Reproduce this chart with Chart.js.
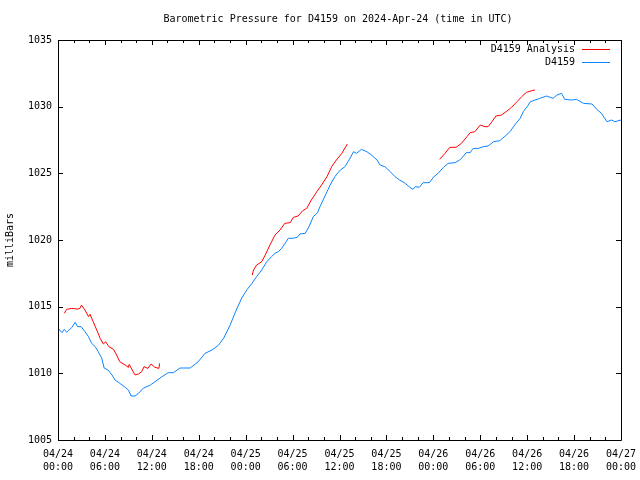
<!DOCTYPE html>
<html>
<head>
<meta charset="utf-8">
<script src="https://cdn.jsdelivr.net/npm/chart.js@4"></script>
<style>
  html, body { margin: 0; padding: 0; background: #fff; }
  #wrap { width: 640px; height: 480px; }
</style>
</head>
<body>
<div id="wrap"><canvas id="myChart" width="640" height="480"></canvas></div>
<script>
// hours since 2024-04-24 00:00 UTC
const stationHours = [0.0, 0.5, 0.8, 1.1, 1.4, 1.75, 2.2, 2.5, 2.95, 3.45, 3.9, 4.3, 4.75, 5.15, 5.6, 5.9, 6.4, 6.9, 7.3, 7.9,
  8.6, 9.0, 9.35, 9.85, 10.3, 10.9, 11.8, 12.4, 13.3, 14.1, 14.75, 15.6, 16.9, 17.9, 18.8, 19.7, 20.5, 21.2, 22.0, 22.8,
  23.5, 24.2, 24.8, 25.4, 26.05, 26.7, 27.3, 27.75, 28.2, 28.6, 29.05, 29.45, 30.1, 30.6, 30.95, 31.6, 32.1, 32.65, 33.2, 33.5,
  33.9, 34.4, 34.8, 35.4, 36.1, 36.7, 37.1, 37.8, 38.2, 38.8, 39.5, 40.1, 40.8, 41.2, 41.8, 42.5, 43.1, 43.7, 44.4, 45.0,
  45.4, 45.7, 46.2, 46.7, 47.5, 48.0, 48.6, 49.3, 49.9, 50.8, 51.5, 52.2, 52.7, 53.1, 53.75, 54.4, 55.0, 55.7, 56.5, 57.2,
  57.8, 58.4, 59.1, 59.5, 60.0, 60.4, 61.0, 61.6, 62.5, 63.3, 63.8, 64.4, 64.8, 65.7, 66.3, 67.2, 68.3, 68.9, 69.5, 70.2,
  70.8, 71.2, 72.0];
const stationMb = [1013.4, 1013.05, 1013.3, 1013.08, 1013.25, 1013.42, 1013.83, 1013.5, 1013.5, 1013.12, 1012.75, 1012.25, 1012.0, 1011.62, 1011.13, 1010.4, 1010.25, 1009.88, 1009.5, 1009.25,
  1008.95, 1008.75, 1008.3, 1008.3, 1008.5, 1008.88, 1009.12, 1009.37, 1009.75, 1010.05, 1010.05, 1010.4, 1010.4, 1010.85, 1011.5, 1011.75, 1012.1, 1012.65, 1013.6, 1014.75,
  1015.65, 1016.3, 1016.75, 1017.25, 1017.75, 1018.37, 1018.75, 1019.0, 1019.13, 1019.38, 1019.75, 1020.13, 1020.13, 1020.2, 1020.45, 1020.5, 1021.0, 1021.75, 1022.05, 1022.5,
  1023.0, 1023.62, 1024.12, 1024.75, 1025.25, 1025.5, 1025.88, 1026.62, 1026.5, 1026.8, 1026.62, 1026.37, 1026.0, 1025.62, 1025.5, 1025.12, 1024.75, 1024.5, 1024.25, 1023.95,
  1023.8, 1024.0, 1023.95, 1024.3, 1024.3, 1024.7, 1025.0, 1025.45, 1025.75, 1025.8, 1026.05, 1026.55, 1026.55, 1026.87, 1026.87, 1027.0, 1027.05, 1027.37, 1027.45, 1027.8,
  1028.12, 1028.62, 1029.13, 1029.62, 1030.0, 1030.37, 1030.5, 1030.62, 1030.8, 1030.62, 1030.87, 1031.0, 1030.55, 1030.5, 1030.55, 1030.25, 1030.2, 1029.8, 1029.5, 1028.87,
  1029.0, 1028.87, 1029.0];

// analysis runs, null = gap between runs
const analysisHours = [0.8, 1.1, 1.75, 2.5, 2.8, 3.0, 3.45, 3.9, 4.1, 4.5, 4.95, 5.4, 5.8, 6.1, 6.5, 7.1, 7.5, 7.9, 8.6, 9.0,
  9.1, 9.5, 9.85, 10.3, 10.7, 11.0, 11.5, 11.9, 12.4, 12.9, 13.0, 18.0,
  24.85, 25.0, 25.4, 26.05, 26.5, 27.1, 27.75, 28.4, 29.0, 29.7, 30.1, 30.7, 31.3, 31.8, 32.4, 33.1, 33.7, 34.4, 35.0, 35.6,
  36.3, 36.8, 37.0, 42.0,
  48.8, 49.5, 50.1, 50.9, 51.6, 52.3, 52.7, 53.3, 54.0, 54.6, 55.0, 55.5, 56.0, 56.7, 57.3, 58.0, 58.7, 59.3, 59.9, 60.6, 61.0];
const analysisMb = [1014.5, 1014.8, 1014.87, 1014.82, 1014.87, 1015.12, 1014.75, 1014.25, 1014.43, 1013.87, 1013.25, 1012.62, 1012.2, 1012.37, 1012.0, 1011.8, 1011.37, 1010.87, 1010.62, 1010.45,
  1010.67, 1010.25, 1009.88, 1009.95, 1010.12, 1010.5, 1010.37, 1010.7, 1010.45, 1010.37, 1010.75, null,
  1017.37, 1017.75, 1018.12, 1018.37, 1018.87, 1019.62, 1020.37, 1020.75, 1021.25, 1021.3, 1021.7, 1021.8, 1022.2, 1022.37, 1023.0, 1023.62, 1024.12, 1024.75, 1025.5, 1026.0,
  1026.5, 1027.0, 1027.2, null,
  1026.05, 1026.5, 1026.95, 1026.95, 1027.25, 1027.75, 1028.05, 1028.12, 1028.62, 1028.5, 1028.5, 1028.87, 1029.3, 1029.37, 1029.62, 1029.95, 1030.37, 1030.75, 1031.07, 1031.2, 1031.25];

const dayLabels = ['04/24', '04/24', '04/24', '04/24', '04/25', '04/25', '04/25', '04/25', '04/26', '04/26', '04/26', '04/26', '04/27'];
const timeLabels = ['00:00', '06:00', '12:00', '18:00', '00:00', '06:00', '12:00', '18:00', '00:00', '06:00', '12:00', '18:00', '00:00'];

const FONT = '10px "DejaVu Sans Mono"';
const RED = '#ff0000';
const BLUE = '#0a84ff';

function pts(xs, ys) {
  return xs.map((x, i) => ({ x: x, y: ys[i] }));
}

// gnuplot-ish frame: border on all sides, ticks pointing inward, title, legend
const gnuFrame = {
  id: 'gnuFrame',
  afterDraw(chart) {
    const ctx = chart.ctx;
    const a = chart.chartArea;
    const xs = chart.scales.x, ys = chart.scales.y;
    ctx.save();
    ctx.strokeStyle = '#000';
    ctx.lineWidth = 1;
    ctx.beginPath();
    ctx.rect(Math.round(a.left) + 0.5, Math.round(a.top) + 0.5, Math.round(a.right - a.left), Math.round(a.bottom - a.top));
    ctx.stroke();

    ctx.beginPath();
    for (let h = 0; h <= 72; h += 2) {
      const px = Math.round(xs.getPixelForValue(h)) + 0.5;
      const len = h % 6 === 0 ? 5 : 3;
      ctx.moveTo(px, a.bottom); ctx.lineTo(px, a.bottom - len);
      ctx.moveTo(px, a.top); ctx.lineTo(px, a.top + len);
    }
    for (let v = 1005; v <= 1035; v += 5) {
      const py = Math.round(ys.getPixelForValue(v)) + 0.5;
      ctx.moveTo(a.left, py); ctx.lineTo(a.left + 5, py);
      ctx.moveTo(a.right, py); ctx.lineTo(a.right - 5, py);
    }
    ctx.stroke();

    ctx.fillStyle = '#000';
    ctx.font = FONT;
    ctx.textAlign = 'center';
    ctx.textBaseline = 'middle';
    ctx.fillText('Barometric Pressure for D4159 on 2024-Apr-24 (time in UTC)', 338, 19);

    ctx.save();
    ctx.translate(10, 240);
    ctx.rotate(-Math.PI / 2);
    ctx.fillText('milliBars', 0, 0);
    ctx.restore();

    // legend, top right inside the plot
    const order = [1, 0];
    order.forEach((di, row) => {
      const ds = chart.data.datasets[di];
      const y = 49 + row * 13;
      ctx.textAlign = 'right';
      ctx.fillStyle = '#000';
      ctx.fillText(ds.label, 575, y);
      ctx.strokeStyle = ds.borderColor;
      ctx.beginPath();
      ctx.moveTo(582, y + 0.5);
      ctx.lineTo(610, y + 0.5);
      ctx.stroke();
    });
    ctx.restore();
  }
};

const ctx = document.getElementById('myChart');
new Chart(ctx, {
  type: 'line',
  data: {
    datasets: [
      {
        label: 'D4159',
        data: pts(stationHours, stationMb),
        borderColor: BLUE,
        borderWidth: 1,
        pointRadius: 0,
        tension: 0
      },
      {
        label: 'D4159 Analysis',
        data: pts(analysisHours, analysisMb),
        borderColor: RED,
        borderWidth: 1,
        pointRadius: 0,
        tension: 0,
        spanGaps: false
      }
    ]
  },
  plugins: [gnuFrame],
  options: {
    responsive: false,
    animation: false,
    parsing: false,
    layout: { padding: { top: 40, right: 19, left: 0, bottom: 0 } },
    plugins: {
      legend: { display: false },
      title: { display: false },
      tooltip: { enabled: false }
    },
    scales: {
      x: {
        type: 'linear',
        min: 0,
        max: 72,
        border: { display: false },
        grid: { display: false, drawTicks: false },
        afterFit: (s) => { s.height = 40; s.paddingLeft = 0; s.paddingRight = 0; },
        afterBuildTicks: (s) => {
          s.ticks = timeLabels.map((t, i) => ({ value: i * 6 }));
        },
        ticks: {
          autoSkip: false,
          maxRotation: 0,
          padding: 8,
          color: '#000',
          font: { family: 'DejaVu Sans Mono', size: 10, lineHeight: 1.3 },
          callback: (v) => {
            const i = Math.round(v / 6);
            return [dayLabels[i], timeLabels[i]];
          }
        }
      },
      y: {
        min: 1005,
        max: 1035,
        border: { display: false },
        grid: { display: false, drawTicks: false },
        afterFit: (s) => { s.width = 58; s.paddingTop = 0; s.paddingBottom = 0; },
        ticks: {
          stepSize: 5,
          padding: 6,
          color: '#000',
          font: { family: 'DejaVu Sans Mono', size: 10 },
          callback: (v) => String(v)
        }
      }
    }
  }
});
</script>
</body>
</html>
